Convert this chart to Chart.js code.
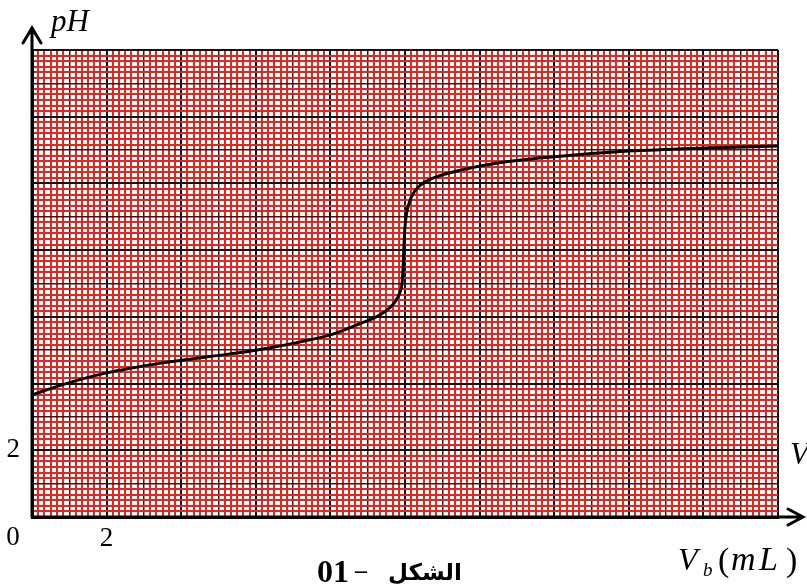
<!DOCTYPE html>
<html>
<head>
    <title>pH titration curve</title>
    <script src="https://cdn.jsdelivr.net/npm/chart.js"></script>
    <style>
        body { margin: 0; background: #fff; }
    </style>
</head>
<body>
    <canvas id="phChart" width="807" height="584"></canvas>

    <script>
        // volume of base added (mL) and the measured pH
        const volumes  = [0, 0.8, 2, 3.5, 5.3, 6, 7.2, 8, 8.8, 9.33, 9.6, 9.75, 9.86, 9.92, 9.95, 9.97, 10.0, 10.05, 10.13, 10.22, 10.32, 10.5, 10.75, 11.5, 12.4, 14, 16, 18, 20];
        const phValues = [3.66, 3.96, 4.32, 4.62, 4.89, 5.0, 5.25, 5.46, 5.8, 6.06, 6.28, 6.48, 6.72, 7.0, 7.5, 8.1, 8.7, 9.15, 9.48, 9.7, 9.85, 10.02, 10.16, 10.4, 10.6, 10.8, 10.97, 11.06, 11.12];

        // only a few ticks are labelled on the graph paper
        const xTickLabels = { 2: "2" };
        const yTickLabels = { 2: "2" };
        const originLabel = "0";

        const xMax = 20;
        const yMax = 14;
        const minorStep = 1 / 6;

        // graph paper lines: black every 2, dark every 1, red in between
        function gridTicks(max) {
            const ticks = [];
            for (let i = 0; i <= Math.round(max / minorStep); i++) {
                ticks.push({ value: i * minorStep });
            }
            return ticks;
        }
        function kind(v) {
            if (Math.abs(v / 2 - Math.round(v / 2)) < 1e-6) return 2;
            if (Math.abs(v - Math.round(v)) < 1e-6) return 1;
            return 0;
        }
        const gridColor = ctx => ["#e3261f", "#4a1010", "#111"][kind(ctx.tick.value)];
        const gridWidth = ctx => [2, 1.5, 2][kind(ctx.tick.value)];

        function labelFor(table) {
            return v => {
                const k = Math.round(v);
                return (Math.abs(v - k) < 1e-6 && table[k] !== undefined) ? table[k] : "";
            };
        }

        const paperText = {
            id: "paperText",
            afterDraw(chart) {
                const c = chart.ctx;
                const x0 = chart.scales.x.getPixelForValue(0);
                const xEnd = chart.scales.x.getPixelForValue(xMax);
                const y0 = chart.scales.y.getPixelForValue(0);
                const yTop = chart.scales.y.getPixelForValue(yMax);
                c.save();
                c.strokeStyle = "#000";
                c.lineWidth = 3;
                c.lineCap = "round";
                // y axis arrow
                c.beginPath();
                c.moveTo(x0, y0);
                c.lineTo(x0, yTop - 22);
                c.moveTo(x0 - 9, yTop - 7);
                c.lineTo(x0, yTop - 22);
                c.lineTo(x0 + 9, yTop - 7);
                // x axis arrow
                c.moveTo(x0, y0);
                c.lineTo(xEnd + 25, y0);
                c.moveTo(xEnd + 10, y0 - 8);
                c.lineTo(xEnd + 25, y0);
                c.lineTo(xEnd + 10, y0 + 8);
                c.stroke();

                c.fillStyle = "#000";
                c.textBaseline = "alphabetic";
                c.textAlign = "left";
                c.font = "italic 31px 'Liberation Serif'";
                c.fillText("pH", 51, 31);

                c.textAlign = "center";
                c.font = "27px 'Liberation Serif'";
                c.fillText(originLabel, 13, 545);

                // partial label cut off at the right edge
                c.textAlign = "left";
                c.font = "italic 31px 'Liberation Serif'";
                c.fillText("V", 790, 464);

                // axis title
                c.font = "italic 32px 'Liberation Serif'";
                c.fillText("V", 678, 570);
                c.font = "italic 19px 'Liberation Serif'";
                c.fillText("b", 703, 576);
                c.font = "34px 'Liberation Serif'";
                c.fillText("(", 718, 571);
                c.font = "italic 34px 'Liberation Serif'";
                c.fillText("m", 731, 570);
                c.fillText("L", 759, 570);
                c.font = "34px 'Liberation Serif'";
                c.fillText(")", 786, 571);

                // figure caption
                c.font = "bold 32px 'Liberation Serif'";
                c.fillText("01", 317, 582);
                c.font = "bold 24px 'Liberation Serif'";
                c.fillText("\u2013", 355, 578);
                c.font = "bold 23px 'DejaVu Sans'";
                c.fillText("الشكل", 388, 580);
                c.restore();
            }
        };

        const ctx = document.getElementById("phChart").getContext("2d");
        const phChart = new Chart(ctx, {
            type: "line",
            data: {
                datasets: [{
                    data: volumes.map((v, i) => ({ x: v, y: phValues[i] })),
                    borderColor: "#000",
                    borderWidth: 3,
                    pointRadius: 0,
                    fill: false,
                    cubicInterpolationMode: "monotone"
                }]
            },
            options: {
                responsive: false,
                animation: false,
                devicePixelRatio: 1,
                layout: { padding: { top: 50, right: 29, left: 0, bottom: 0 } },
                scales: {
                    x: {
                        type: "linear",
                        min: 0,
                        max: xMax,
                        afterBuildTicks: s => { s.ticks = gridTicks(xMax); },
                        afterFit: s => { s.height = 67; },
                        grid: { color: gridColor, lineWidth: gridWidth, drawTicks: false },
                        border: { color: "#000", width: 3 },
                        ticks: {
                            autoSkip: false,
                            maxRotation: 0,
                            padding: 6,
                            color: "#000",
                            font: { family: "Liberation Serif", size: 27 },
                            callback: labelFor(xTickLabels)
                        }
                    },
                    y: {
                        min: 0,
                        max: yMax,
                        afterBuildTicks: s => { s.ticks = gridTicks(yMax); },
                        afterFit: s => { s.width = 32; },
                        grid: { color: gridColor, lineWidth: gridWidth, drawTicks: false },
                        border: { color: "#000", width: 3 },
                        ticks: {
                            autoSkip: false,
                            padding: 12,
                            color: "#000",
                            font: { family: "Liberation Serif", size: 27 },
                            callback: labelFor(yTickLabels)
                        }
                    }
                },
                plugins: {
                    legend: { display: false },
                    tooltip: { enabled: false }
                }
            },
            plugins: [paperText]
        });
    </script>
</body>
</html>
